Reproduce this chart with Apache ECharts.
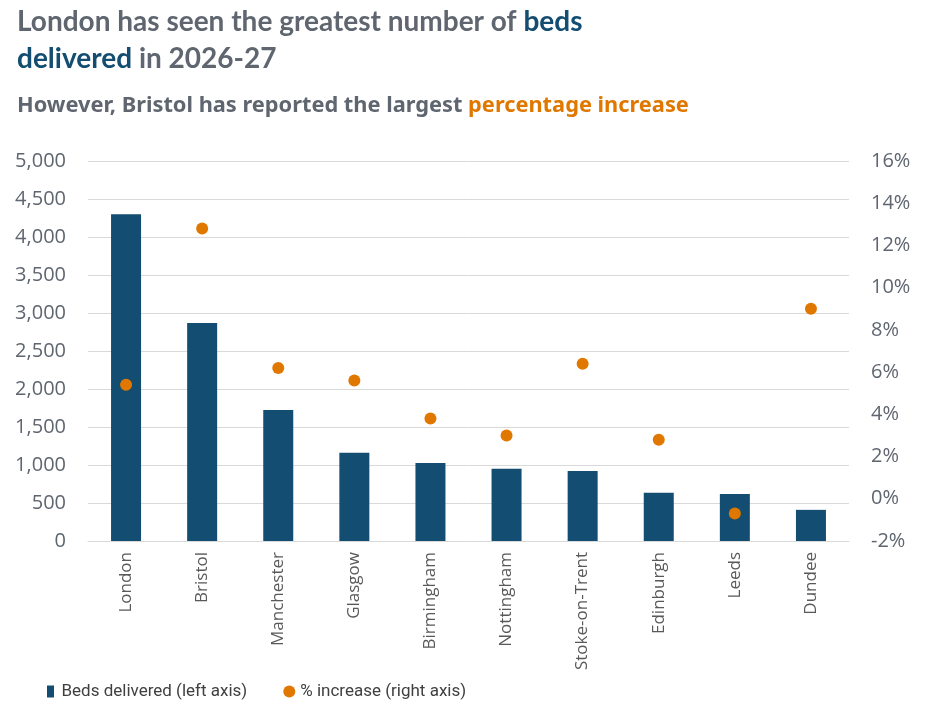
<!DOCTYPE html>
<html>
<head>
<meta charset="utf-8">
<script src="https://cdn.jsdelivr.net/npm/echarts@6/dist/echarts.min.js"></script>
<style>
  html, body { margin: 0; padding: 0; background: #fff; }
  #chart { width: 943px; height: 706px; }
</style>
</head>
<body>
<div id="chart"></div>
<script>
// cities, beds delivered (left axis) and % increase (right axis)
var cities = ["London", "Bristol", "Manchester", "Glasgow", "Birmingham",
    "Nottingham", "Stoke-on-Trent", "Edinburgh", "Leeds", "Dundee"];
var beds = [4300, 2870, 1725, 1160, 1025, 950, 920, 635, 620, 410];
var pctIncrease = [5.4, 12.8, 6.2, 5.6, 3.8, 3.0, 6.4, 2.8, -0.7, 9.0];

var grey = "#5f6670";
var blue = "#134d71";
var orange = "#e07800";

var chart = echarts.init(document.getElementById("chart"));

chart.setOption({
    animation: false,
    title: [{
        left: 17, top: 3, padding: 0,
        text: "London has seen the greatest number of {b|beds}\n{b|delivered} in 2026-27",
        textStyle: {
            fontFamily: "Lato", fontWeight: "bold", fontSize: 28, color: grey, lineHeight: 37,
            rich: { b: { fontFamily: "Lato", fontWeight: "bold", fontSize: 28, color: blue, lineHeight: 37 } }
        }
    }, {
        left: 17, top: 95, padding: 0,
        text: "However, Bristol has reported the largest {o|percentage increase}",
        textStyle: {
            fontFamily: "Noto Sans", fontWeight: "bold", fontSize: 21.8, color: grey,
            rich: { o: { fontFamily: "Noto Sans", fontWeight: "bold", fontSize: 21.8, color: orange } }
        }
    }],
    legend: {
        left: 42, top: 678,
        itemGap: 36,
        itemWidth: 12, itemHeight: 12,
        textStyle: { fontFamily: "Roboto", fontSize: 17, color: "#404040" },
        data: [
            { name: "Beds delivered (left axis)", icon: "path://M0,0H7V12H0Z" },
            { name: "% increase (right axis)", icon: "circle", itemStyle: { color: orange, opacity: 1 } }
        ]
    },
    grid: { left: 88, right: 94, top: 161, bottom: 165 },
    xAxis: {
        type: "category",
        data: cities,
        axisTick: { show: false },
        axisLine: { lineStyle: { color: "#d9d9d9" } },
        axisLabel: {
            rotate: 90, margin: 11, fontFamily: "Open Sans", fontSize: 17, color: "#595959"
        }
    },
    yAxis: [{
        type: "value", min: 0, max: 5000, interval: 500,
        axisLine: { show: false }, axisTick: { show: false },
        splitLine: { lineStyle: { color: "#d9d9d9" } },
        axisLabel: {
            margin: 22, fontFamily: "Open Sans", fontSize: 20, color: grey,
            formatter: function (v) { return v.toLocaleString("en-GB"); }
        }
    }, {
        type: "value", min: -2, max: 16, interval: 2,
        axisLine: { show: false }, axisTick: { show: false },
        splitLine: { show: false },
        axisLabel: {
            margin: 22, fontFamily: "Open Sans", fontSize: 20, color: grey,
            formatter: "{value}%"
        }
    }],
    series: [{
        name: "Beds delivered (left axis)",
        type: "bar",
        yAxisIndex: 0,
        data: beds,
        barWidth: 30,
        itemStyle: { color: blue }
    }, {
        name: "% increase (right axis)",
        type: "scatter",
        yAxisIndex: 1,
        data: pctIncrease,
        symbolSize: 12,
        itemStyle: { color: orange, opacity: 1 }
    }]
});
</script>
</body>
</html>
